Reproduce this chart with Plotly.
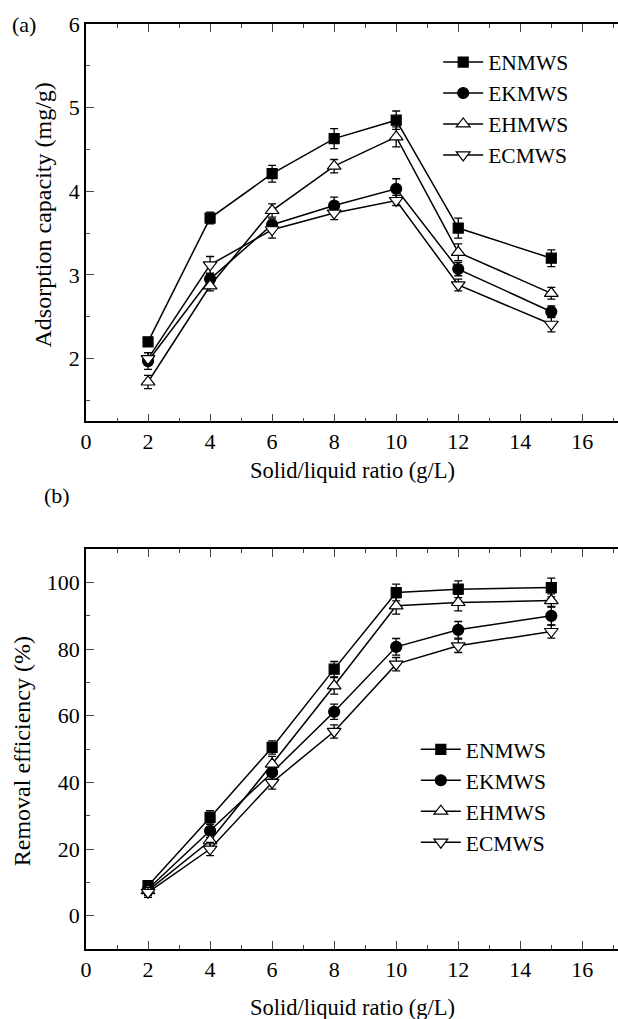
import plotly.graph_objects as go

ratio = [2, 4, 6, 8, 10, 12, 15]
series_names = ["ENMWS", "EKMWS", "EHMWS", "ECMWS"]

# (a) Adsorption capacity (mg/g)
cap_en = [2.20, 3.68, 4.21, 4.63, 4.85, 3.56, 3.20]
cap_ek = [1.97, 2.95, 3.60, 3.83, 4.03, 3.07, 2.56]
cap_eh = [1.72, 2.87, 3.77, 4.30, 4.65, 3.27, 2.78]
cap_ec = [2.00, 3.12, 3.54, 3.74, 3.89, 2.88, 2.41]
cap_en_err = [0.05, 0.07, 0.10, 0.12, 0.11, 0.12, 0.10]
cap_ek_err = [0.10, 0.06, 0.07, 0.10, 0.12, 0.08, 0.07]
cap_eh_err = [0.08, 0.06, 0.08, 0.08, 0.12, 0.10, 0.07]
cap_ec_err = [0.07, 0.10, 0.10, 0.08, 0.06, 0.07, 0.09]

# (b) Removal efficiency (%)
rem_en = [9.0, 29.5, 50.5, 74.0, 97.0, 98.0, 98.5]
rem_ek = [8.0, 25.5, 43.0, 61.2, 80.7, 85.8, 90.0]
rem_eh = [7.5, 22.5, 45.5, 69.0, 93.0, 94.0, 94.6]
rem_ec = [7.0, 20.0, 40.0, 55.3, 75.5, 81.0, 85.3]
rem_en_err = [1.5, 2.0, 2.0, 2.3, 2.5, 2.5, 2.8]
rem_ek_err = [1.5, 2.0, 2.0, 2.3, 2.5, 2.5, 2.8]
rem_eh_err = [1.5, 2.0, 2.3, 2.5, 2.5, 2.5, 2.0]
rem_ec_err = [1.5, 2.0, 2.0, 2.0, 2.0, 2.0, 2.0]

x_title = "Solid/liquid ratio (g/L)"
y_title_a = "Adsorption capacity (mg/g)"
y_title_b = "Removal efficiency (%)"

symbols = ["square", "circle", "triangle-up", "triangle-down"]
fills = ["black", "black", "white", "white"]
sizes = [10, 11, 12, 12]
FONT = "Liberation Serif"
TICK_FS = 22
TITLE_FS = 22.5
YTITLE_FS = 24
LEG_FS = 21.5

fig = go.Figure()

def add_series(x, ys, errs, xa, ya, leg):
    for name, y, e, sym, fc, sz in zip(series_names, ys, errs, symbols, fills, sizes):
        fig.add_trace(go.Scatter(
            x=x, y=y, name=name, mode="lines+markers",
            xaxis=xa, yaxis=ya, legend=leg,
            line=dict(color="black", width=1.5),
            marker=dict(symbol=sym, size=sz, color=fc,
                        line=dict(color="black", width=1.2)),
            error_y=dict(type="data", array=e, visible=True,
                         color="black", thickness=1.3, width=4),
        ))

add_series(ratio, [cap_en, cap_ek, cap_eh, cap_ec],
           [cap_en_err, cap_ek_err, cap_eh_err, cap_ec_err], "x", "y", "legend")
add_series(ratio, [rem_en, rem_ek, rem_eh, rem_ec],
           [rem_en_err, rem_ek_err, rem_eh_err, rem_ec_err], "x2", "y2", "legend2")

xcommon = dict(range=[0, 17.15], tick0=0, dtick=2, ticks="inside", ticklen=8,
               tickwidth=1.3, showline=True, linecolor="black", linewidth=1.5,
               mirror="ticks", showgrid=False, zeroline=False,
               minor=dict(ticks="inside", dtick=1, ticklen=4, tickwidth=1.2, showgrid=False),
               tickfont=dict(family=FONT, size=TICK_FS, color="black"))
ycommon = dict(ticks="inside", ticklen=8, tickwidth=1.3, showline=True,
               linecolor="black", linewidth=1.5, showgrid=False, zeroline=False,
               tickfont=dict(family=FONT, size=TICK_FS, color="black"))

def ann(text, x, y, size, angle=0, xanchor="center"):
    return dict(text=text, xref="paper", yref="paper", x=x, y=y, textangle=angle,
                showarrow=False, xanchor=xanchor, yanchor="middle",
                font=dict(family=FONT, size=size, color="black"))

fig.update_layout(
    width=618, height=1019,
    margin=dict(l=85.7, r=0, t=23.5, b=70),
    paper_bgcolor="white", plot_bgcolor="white",
    font=dict(family=FONT, size=TICK_FS, color="black"),
    showlegend=True,
    xaxis=dict(domain=[0, 1], anchor="y", **xcommon),
    yaxis=dict(domain=[0.5705, 1], anchor="x", range=[1.25, 6], dtick=1, tick0=0,
               minor=dict(ticks="inside", dtick=0.5, ticklen=4, tickwidth=1.2, showgrid=False),
               **ycommon),
    xaxis2=dict(domain=[0, 1], anchor="y2", **xcommon),
    yaxis2=dict(domain=[0, 0.4322], anchor="x2", range=[-10, 110], dtick=20, tick0=0,
                minor=dict(ticks="inside", dtick=10, ticklen=4, tickwidth=1.2, showgrid=False),
                **ycommon),
    legend=dict(x=0.662, y=0.981, xanchor="left", yanchor="top",
                bgcolor="rgba(0,0,0,0)", font=dict(family=FONT, size=LEG_FS),
                tracegroupgap=0, itemwidth=40),
    legend2=dict(x=0.62, y=0.238, xanchor="left", yanchor="top",
                 bgcolor="rgba(0,0,0,0)", font=dict(family=FONT, size=LEG_FS),
                 tracegroupgap=0, itemwidth=40),
    annotations=[
        ann(y_title_a, -0.081, 0.794, YTITLE_FS, -90),
        ann(y_title_b, -0.12, 0.214, YTITLE_FS, -90),
        ann(x_title, 0.5, 0.5176, TITLE_FS),
        ann(x_title, 0.5, -0.0637, TITLE_FS),
        ann("(a)", -0.143, 1.0, TICK_FS, 0, "left"),
        ann("(b)", -0.083, 0.4905, TICK_FS, 0, "left"),
    ],
)

fig.write_html("out.html", config={"displayModeBar": False},
               post_script="document.body.style.margin='0px';document.body.style.overflow='hidden';")
